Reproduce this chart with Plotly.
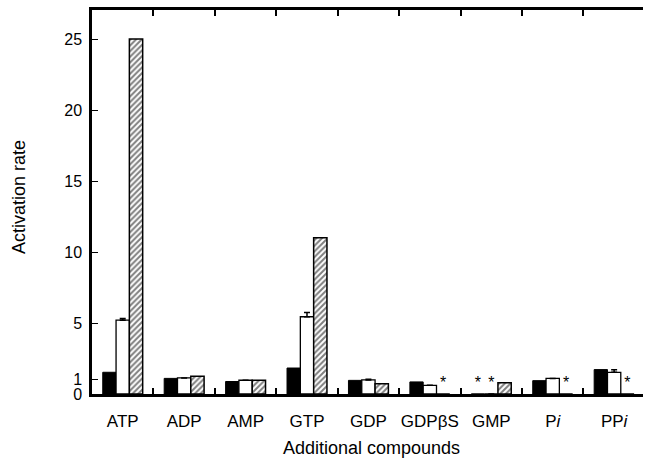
import plotly.graph_objects as go

categories = ["ATP", "ADP", "AMP", "GTP", "GDP", "GDPβS", "GMP", "P<i>i</i>", "PP<i>i</i>"]
black_vals = [1.53, 1.10, 0.88, 1.83, 0.96, 0.85, None, 0.94, 1.72]
white_vals = [5.20, 1.13, 0.97, 5.44, 0.99, 0.61, None, 1.10, 1.53]
hatched_vals = [25.0, 1.25, 0.97, 11.0, 0.73, None, 0.80, None, None]
white_err = [0.12, 0.0, 0.0, 0.30, 0.05, 0.0, 0.0, 0.0, 0.17]
ytick_vals = [0, 1, 5, 10, 15, 20, 25]
ytick_text = ["0", "1", "5", "10", "15", "20", "25"]

FONT = "Liberation Sans, Arial, sans-serif"
W, H = 645, 458
ML, MR, MT, MB = 92, 2, 10, 64


def prep(vals):
    ys = [0 if v is None else v for v in vals]
    txt = ["*" if v is None else "" for v in vals]
    return ys, txt


fig = go.Figure()

by, bt = prep(black_vals)
fig.add_trace(go.Bar(
    x=categories, y=by, text=bt, textposition="outside", cliponaxis=False,
    textfont=dict(size=16, color="black", family=FONT),
    marker=dict(color="black", line=dict(color="black", width=1)),
    name="black"))

wy, wt = prep(white_vals)
fig.add_trace(go.Bar(
    x=categories, y=wy, text=wt, textposition="outside", cliponaxis=False,
    textfont=dict(size=16, color="black", family=FONT),
    marker=dict(color="white", line=dict(color="black", width=1.3)),
    error_y=dict(type="data", array=white_err, arrayminus=[0] * len(white_err),
                 symmetric=False, color="black", thickness=1.5, width=3),
    name="white"))

hy, ht = prep(hatched_vals)
fig.add_trace(go.Bar(
    x=categories, y=hy, text=ht, textposition="outside", cliponaxis=False,
    textfont=dict(size=16, color="black", family=FONT),
    marker=dict(color="white", line=dict(color="black", width=1.5),
                pattern=dict(shape="/", fgcolor="black", bgcolor="white",
                             size=4, solidity=0.5)),
    name="hatched"))

pw = W - ML - MR
ph = H - MT - MB


def px_to_paper(px, py):
    return (px - ML) / pw, (H - MB - py) / ph


ytx, yty = px_to_paper(19, 197)
xtx, xty = px_to_paper(371, 448)

fig.update_layout(
    width=W, height=H,
    margin=dict(l=ML, r=MR, t=MT, b=MB, autoexpand=False),
    plot_bgcolor="white", paper_bgcolor="white",
    barmode="group", bargap=0.35, bargroupgap=0,
    showlegend=False,
    font=dict(family=FONT, color="black", size=17),
    xaxis=dict(
        range=[-0.5, 8.47], showline=True, linecolor="black", linewidth=2.5,
        mirror="ticks", ticks="inside", tickson="boundaries", ticklen=6,
        tickwidth=1.5, tickcolor="black", showgrid=False, tickangle=0,
        ticklabelstandoff=10, tickfont=dict(size=17, family=FONT),
    ),
    yaxis=dict(
        range=[0, 27.05], showline=True, linecolor="black", linewidth=2.5,
        ticks="inside", ticklen=6, tickwidth=1.2, tickcolor="black",
        tickvals=ytick_vals, ticktext=ytick_text, showgrid=False, zeroline=False,
        ticklabelstandoff=4, tickfont=dict(size=16, family=FONT),
    ),
    yaxis2=dict(
        overlaying="y", side="right", range=[0, 27.05], showline=False,
        ticks="inside", ticklen=6, tickwidth=1.2, tickcolor="black",
        tickvals=ytick_vals[1:], showticklabels=False, showgrid=False, zeroline=False,
    ),
    annotations=[
        dict(text="Activation rate", textangle=-90, x=ytx, y=yty, xref="paper",
             yref="paper", xanchor="center", yanchor="middle", showarrow=False,
             font=dict(size=18, family=FONT)),
        dict(text="Additional compounds", x=xtx, y=xty, xref="paper", yref="paper",
             xanchor="center", yanchor="middle", showarrow=False,
             font=dict(size=18, family=FONT)),
    ],
)

fig.write_html(
    "out.html",
    config={"displayModeBar": False},
    post_script="document.body.style.margin='0';document.body.style.overflow='hidden';",
)
